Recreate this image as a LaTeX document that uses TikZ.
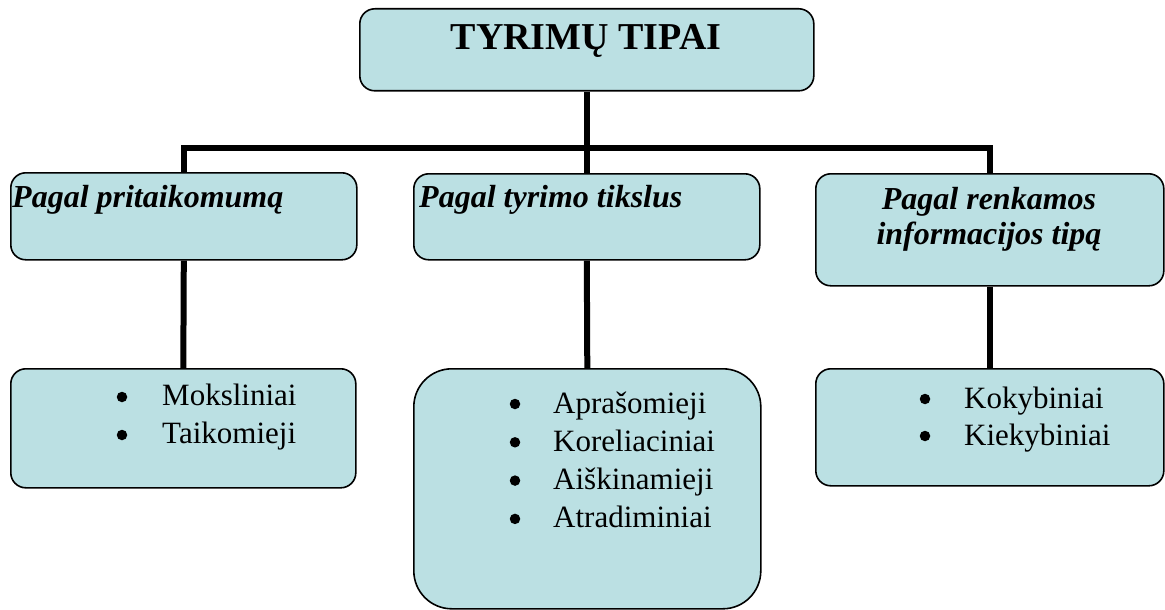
\documentclass[tikz,border=0pt]{standalone}
\usepackage{fontspec}
\setmainfont{Liberation Serif}
\definecolor{boxfill}{RGB}{187,224,227}
\tikzset{
  box/.style={draw=black, line width=1.6pt, fill=boxfill, rounded corners=15pt,
    anchor=north west, inner sep=0pt},
  link/.style={line width=6pt},
  title/.style={font=\fontsize{38}{44}\selectfont\bfseries, inner sep=0pt},
  head/.style={font=\fontsize{32}{35}\selectfont\bfseries\itshape, inner sep=0pt},
  item/.style={font=\fontsize{31}{38}\selectfont, inner sep=0pt},
  dot/.style={circle, fill=black, inner sep=0pt, minimum size=10.5pt}
}
\begin{document}
\begin{tikzpicture}[x=1pt, y=-1pt]

  % Fix the page to the size of the picture
  \useasboundingbox (0,0) rectangle (1165,610);

  % Top box
  \node[box, minimum width=454pt, minimum height=82pt] (top) at (359,8) {};
  \node[title, anchor=base] (toptext) at (586,50) {TYRIMŲ TIPAI};

  % Second row: the three groups
  \node[box, minimum width=346pt, minimum height=87pt] (h1) at (10,172) {};
  \node[box, minimum width=346pt, minimum height=86pt] (h2) at (413,173) {};
  \node[box, minimum width=348pt, minimum height=112pt] (h3) at (815,173) {};

  \node[head, anchor=base west] (h1text) at (12,207) {Pagal pritaikomumą};
  \node[head, anchor=base west] (h2text) at (419,207) {Pagal tyrimo tikslus};
  \node[head, anchor=north, align=center] (h3text) at (989,187)
    {Pagal renkamos\\informacijos tipą};

  % Third row: the lists
  \node[box, minimum width=345pt, minimum height=119pt] (l1) at (10,368) {};
  \node[box, minimum width=347pt, minimum height=240pt, rounded corners=38pt] (l2) at (413,368) {};
  \node[box, minimum width=348pt, minimum height=117pt] (l3) at (815,368) {};

  % List items
  \foreach \t [count=\i] in {Moksliniai, Taikomieji} {
    \node[dot] (d1-\i) at (122,{397+38*(\i-1)}) {};
    \node[item, anchor=base west] (t1-\i) at (162,{405+38*(\i-1)}) {\t};
  }
  \foreach \t [count=\i] in {Aprašomieji, Koreliaciniai, Aiškinamieji, Atradiminiai} {
    \node[dot] (d2-\i) at (515,{404+38.3*(\i-1)}) {};
    \node[item, anchor=base west] (t2-\i) at (553,{413+38.3*(\i-1)}) {\t};
  }
  \foreach \t [count=\i] in {Kokybiniai, Kiekybiniai} {
    \node[dot] (d3-\i) at (925,{399+37*(\i-1)}) {};
    \node[item, anchor=base west] (t3-\i) at (964,{408+37*(\i-1)}) {\t};
  }

  % The bus line below the top box
  \coordinate (bus) at (0,148);

  % Draw the connectors
  \draw[link] (top.south) -- (top.south |- bus);
  \draw[link] (h1.north) |- (h3.north |- bus) -- (h3.north);
  \draw[link] (h2.north) -- (h2.north |- bus);
  \draw[link] (h1.south) -- (l1.north);
  \draw[link] (h2.south) -- (l2.north);
  \draw[link] (h3.south) -- (l3.north);

\end{tikzpicture}
\end{document}
